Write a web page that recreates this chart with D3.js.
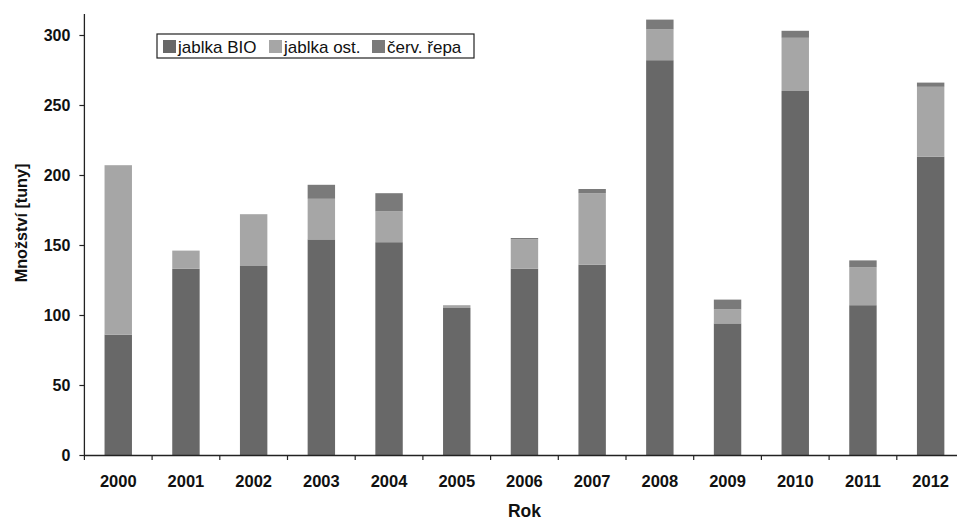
<!DOCTYPE html>
<html>
<head>
<meta charset="utf-8">
<script src="https://cdn.jsdelivr.net/npm/d3@7"></script>
<style>
  html, body { margin: 0; padding: 0; background: #fff; }
  svg { display: block; font-family: "Liberation Sans", Arial, sans-serif; }
</style>
</head>
<body>
<svg id="chart" width="957" height="519"></svg>
<script>
// Years on the x axis
const years = ["2000","2001","2002","2003","2004","2005","2006","2007","2008","2009","2010","2011","2012"];
// Quantities in tonnes per series
const jablkaBio = [86, 133, 135, 154, 152, 105, 133, 136, 282, 94, 260, 107, 213];
const jablkaOst = [121, 13, 37, 29, 22, 2, 21, 51, 22, 10, 38, 27, 50];
const cervRepa  = [0, 0, 0, 10, 13, 0, 1, 3, 7, 7, 5, 5, 3];
const seriesNames = ["jablka BIO", "jablka ost.", "červ. řepa"];
const seriesColors = ["#686868", "#a6a6a6", "#7a7a7a"];
const yTicks = [0, 50, 100, 150, 200, 250, 300];

const rows = years.map((yr, i) => ({
  year: yr, bio: jablkaBio[i], ost: jablkaOst[i], repa: cervRepa[i]
}));
const keys = ["bio", "ost", "repa"];
const stacked = d3.stack().keys(keys)(rows);

const svg = d3.select("#chart");
const plotLeft = 84.4, plotBottom = 455, plotTop = 14, step = 67.7;
const labelFont = "Liberation Sans, Arial, sans-serif";

const x = d3.scaleBand().domain(years).range([plotLeft, plotLeft + step * years.length]).padding(0);
const y = d3.scaleLinear().domain([0, 315]).range([plotBottom, plotTop]);
const barW = x.bandwidth() * 0.405;

// Stacked bars
svg.append("g").selectAll("g")
  .data(stacked)
  .join("g")
  .attr("fill", (d, i) => seriesColors[i])
  .selectAll("rect")
  .data(d => d)
  .join("rect")
  .attr("x", d => x(d.data.year) + (x.bandwidth() - barW) / 2)
  .attr("width", barW)
  .attr("y", d => y(d[1]))
  .attr("height", d => Math.max(0, y(d[0]) - y(d[1])));

// Y axis
const yAxis = svg.append("g")
  .attr("transform", `translate(${plotLeft},0)`)
  .call(d3.axisLeft(y).tickValues(yTicks).tickSize(5).tickPadding(9));
yAxis.select(".domain").attr("d", `M0,${plotTop}V${plotBottom}`).attr("stroke", "#222").attr("stroke-width", 1.3);
yAxis.selectAll(".tick line").attr("stroke", "#222").attr("stroke-width", 1.2);
yAxis.selectAll(".tick text").attr("font-size", 16).attr("font-weight", "bold").attr("fill", "#111")
  .attr("font-family", labelFont);

// X axis: labels centred under bars, tick marks between categories
const xAxis = svg.append("g")
  .attr("transform", `translate(0,${plotBottom})`)
  .call(d3.axisBottom(x).tickSize(0).tickPadding(20));
xAxis.select(".domain").attr("stroke", "#222").attr("stroke-width", 1.3);
xAxis.selectAll(".tick text").attr("font-size", 16.5).attr("font-weight", "bold").attr("fill", "#111")
  .attr("font-family", labelFont);
xAxis.selectAll("line.sep")
  .data(years.concat(["end"]))
  .join("line")
  .attr("class", "sep")
  .attr("x1", (d, i) => plotLeft + i * x.step())
  .attr("x2", (d, i) => plotLeft + i * x.step())
  .attr("y1", 0).attr("y2", 5)
  .attr("stroke", "#222").attr("stroke-width", 1.2);

// Axis titles
svg.append("text")
  .attr("x", 524.5).attr("y", 516.5)
  .attr("text-anchor", "middle")
  .attr("font-size", 17.5).attr("font-weight", "bold").attr("fill", "#111")
  .text("Rok");
svg.append("text")
  .attr("transform", "translate(27,223) rotate(-90)")
  .attr("text-anchor", "middle")
  .attr("font-size", 16.2).attr("font-weight", "bold").attr("fill", "#111")
  .text("Množství [tuny]");

// Legend
const legend = svg.append("g").attr("transform", "translate(157,34)");
legend.append("rect")
  .attr("x", 0).attr("y", 0).attr("width", 317).attr("height", 24)
  .attr("fill", "#fff").attr("stroke", "#222").attr("stroke-width", 1.2);
const legendX = [6, 112, 215];
const items = legend.selectAll("g.item")
  .data(seriesNames)
  .join("g")
  .attr("class", "item")
  .attr("transform", (d, i) => `translate(${legendX[i]},0)`);
items.append("rect")
  .attr("x", 0).attr("y", 6).attr("width", 13).attr("height", 13)
  .attr("fill", (d, i) => seriesColors[i]);
items.append("text")
  .attr("x", 15).attr("y", 18.5)
  .attr("font-size", 17).attr("fill", "#111")
  .text(d => d);
</script>
</body>
</html>
